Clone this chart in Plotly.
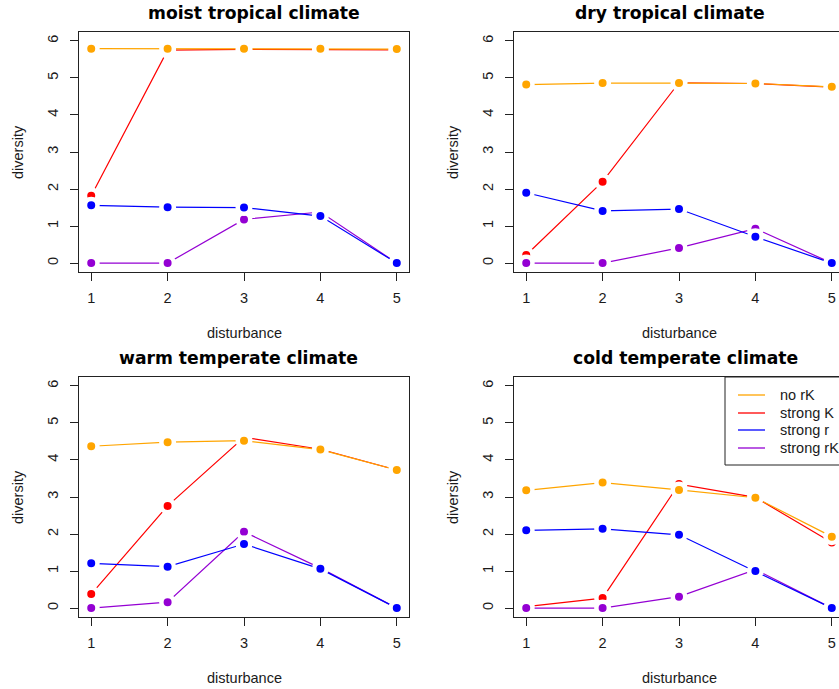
import plotly.graph_objects as go

# Figure size in pixels
W, H = 839, 689

# ---- data -------------------------------------------------------------
disturbance = [1, 2, 3, 4, 5]
x_ticks = [1, 2, 3, 4, 5]
y_ticks = [0, 1, 2, 3, 4, 5, 6]

series_names = ["no rK", "strong K", "strong r", "strong rK"]
series_colors = ["#FFA500", "#FF0000", "#0000FF", "#9400D3"]

panel_titles = ["moist tropical climate", "dry tropical climate",
                "warm temperate climate", "cold temperate climate"]

moist_no_rK = [5.79, 5.79, 5.79, 5.79, 5.78]
moist_strong_K = [1.82, 5.75, 5.77, 5.77, 5.76]
moist_strong_r = [1.56, 1.51, 1.50, 1.27, 0.0]
moist_strong_rK = [0.0, 0.0, 1.18, 1.38, 0.0]

dry_no_rK = [4.82, 4.86, 4.86, 4.85, 4.76]
dry_strong_K = [0.22, 2.20, 4.87, 4.85, 4.75]
dry_strong_r = [1.90, 1.41, 1.46, 0.71, 0.0]
dry_strong_rK = [0.0, 0.0, 0.41, 0.93, 0.0]

warm_no_rK = [4.37, 4.48, 4.52, 4.28, 3.73]
warm_strong_K = [0.38, 2.76, 4.61, 4.29, 3.73]
warm_strong_r = [1.21, 1.12, 1.73, 1.06, 0.0]
warm_strong_rK = [0.0, 0.16, 2.06, 1.08, 0.0]

cold_no_rK = [3.18, 3.39, 3.19, 2.98, 1.93]
cold_strong_K = [0.04, 0.27, 3.35, 2.99, 1.77]
cold_strong_r = [2.10, 2.14, 1.98, 1.00, 0.0]
cold_strong_rK = [0.0, 0.0, 0.31, 1.04, 0.0]

panels = [
    [moist_no_rK, moist_strong_K, moist_strong_r, moist_strong_rK],
    [dry_no_rK, dry_strong_K, dry_strong_r, dry_strong_rK],
    [warm_no_rK, warm_strong_K, warm_strong_r, warm_strong_rK],
    [cold_no_rK, cold_strong_K, cold_strong_r, cold_strong_rK],
]

# ---- layout geometry (pixels) -----------------------------------------
col_x = [(79, 409), (514, 839)]
row_y = [(32, 272), (377, 617)]
x_full_range = [0.84, 5.16]
unit_px = (col_x[0][1] - col_x[0][0]) / (x_full_range[1] - x_full_range[0])
x_right_range = [0.84, 0.84 + (col_x[1][1] - col_x[1][0]) / unit_px]
y_range = [-0.24, 6.24]

draw_order = [1, 0, 3, 2]  # strong K, no rK, strong rK, strong r

TICK_FONT = dict(family="Liberation Sans, Arial, sans-serif", size=14.5, color="#1a1a1a")
TITLE_FONT = dict(family="DejaVu Sans, sans-serif", size=17.2, color="black", weight="bold")
LINE_COL = "#222222"

fig = go.Figure()
layout = dict(
    width=W, height=H,
    margin=dict(l=0, r=0, t=0, b=0),
    paper_bgcolor="white", plot_bgcolor="white",
    showlegend=False,
)
annotations = []
shapes = []

for p in range(4):
    r, c = divmod(p, 2)
    ax = "" if p == 0 else str(p + 1)
    xd = [col_x[c][0] / W, col_x[c][1] / W]
    yd = [1 - row_y[r][1] / H, 1 - row_y[r][0] / H]
    layout["xaxis" + ax] = dict(
        domain=xd, anchor="y" + ax,
        range=x_full_range if c == 0 else x_right_range,
        tickvals=x_ticks, ticks="outside", ticklen=8, tickcolor=LINE_COL,
        showline=True, linecolor=LINE_COL, linewidth=1, mirror=True,
        showgrid=False, zeroline=False, tickfont=TICK_FONT,
        ticklabelstandoff=5,
    )
    layout["yaxis" + ax] = dict(
        domain=yd, anchor="x" + ax, range=y_range,
        tickvals=y_ticks, ticks="outside", ticklen=8, tickcolor=LINE_COL,
        showline=True, linecolor=LINE_COL, linewidth=1,
        mirror=(c == 0),
        showgrid=False, zeroline=False, tickfont=TICK_FONT,
        tickangle=-90, ticklabelstandoff=6,
    )
    for s in draw_order:
        fig.add_trace(go.Scatter(
            x=disturbance, y=panels[p][s], name=series_names[s],
            mode="lines+markers",
            line=dict(color=series_colors[s], width=1.2),
            marker=dict(color=series_colors[s], size=12.5,
                        line=dict(color="white", width=4.5)),
            xaxis="x" + ax, yaxis="y" + ax,
        ))

    # panel title
    title_x = [253.5, 670, 238.7, 685][p]
    annotations.append(dict(
        text=panel_titles[p], x=title_x / W, y=1 - ([13, 358][r]) / H,
        xref="paper", yref="paper", xanchor="center", yanchor="middle",
        showarrow=False, font=TITLE_FONT,
    ))
    # axis titles
    annotations.append(dict(
        text="disturbance", x=[244, 679][c] / W, y=1 - ([333, 678][r]) / H,
        xref="paper", yref="paper", xanchor="center", yanchor="middle",
        showarrow=False, font=TICK_FONT,
    ))
    annotations.append(dict(
        text="diversity", x=[18, 453][c] / W, y=1 - ([152, 497][r]) / H,
        xref="paper", yref="paper", xanchor="center", yanchor="middle",
        textangle=-90, showarrow=False, font=TICK_FONT,
    ))

# legend box inside the cold temperate panel
leg_left, leg_top, leg_bottom = 725, 377, 465
shapes.append(dict(type="rect", xref="paper", yref="paper",
                   x0=leg_left / W, x1=1.05, y0=1 - leg_bottom / H, y1=1 - leg_top / H,
                   line=dict(color=LINE_COL, width=1), fillcolor="white", layer="above"))
leg_rows = [395, 413, 430, 448]
for i, name in enumerate(series_names):
    yy = 1 - leg_rows[i] / H
    shapes.append(dict(type="line", xref="paper", yref="paper",
                       x0=738 / W, x1=765 / W, y0=yy, y1=yy,
                       line=dict(color=series_colors[i], width=1.3), layer="above"))
    annotations.append(dict(
        text=name, x=778 / W, y=yy, xref="paper", yref="paper",
        xanchor="left", yanchor="middle", showarrow=False, font=TICK_FONT,
    ))

layout["annotations"] = annotations
layout["shapes"] = shapes
fig.update_layout(**layout)
fig.write_html("out.html")
